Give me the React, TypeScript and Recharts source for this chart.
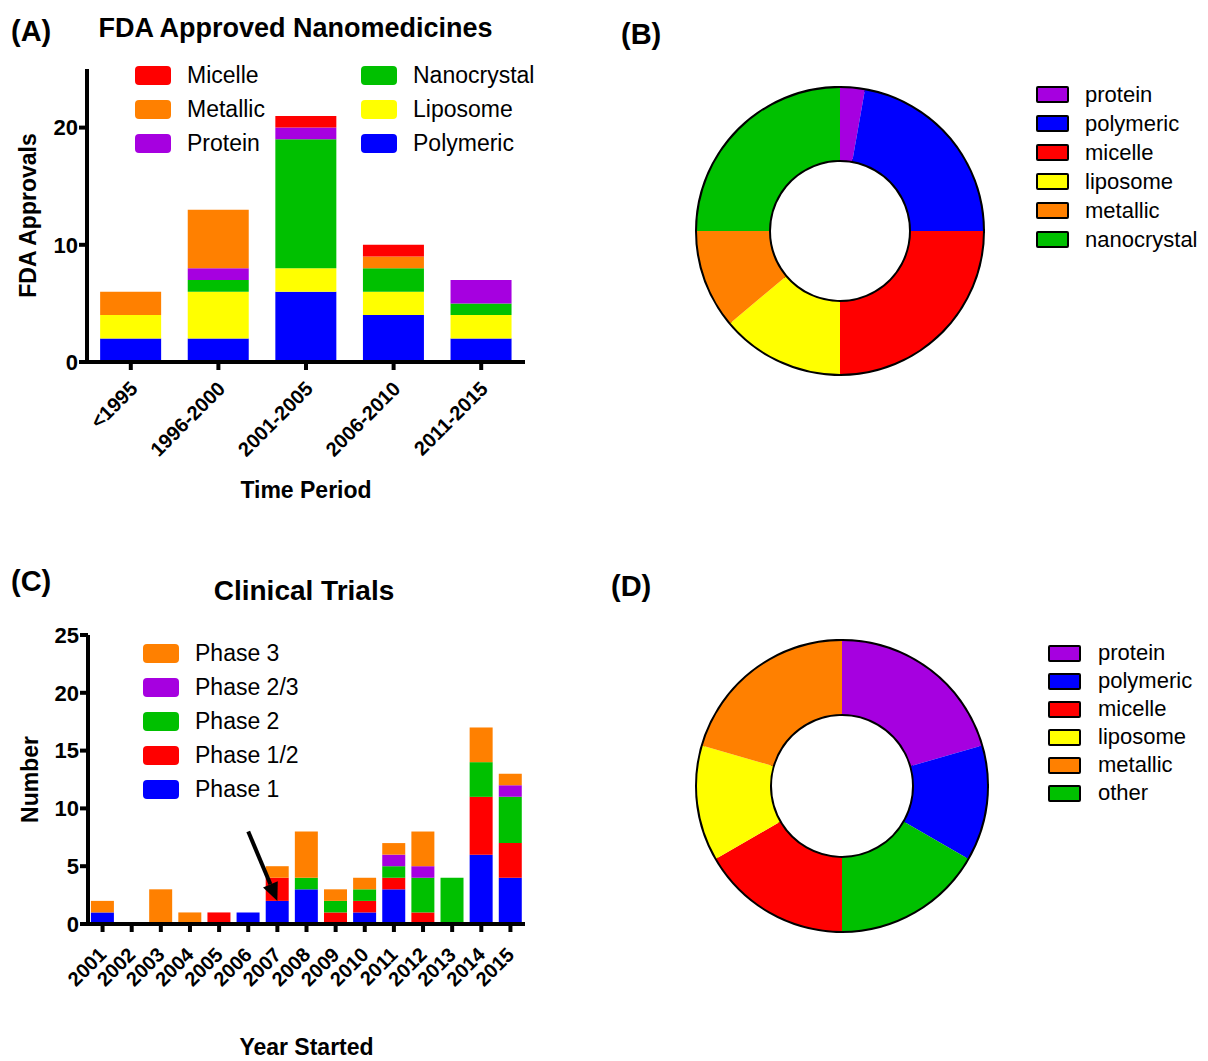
import React from "react";
import { BarChart, Bar, XAxis, YAxis, Legend, ReferenceLine, PieChart, Pie, Cell } from "recharts";

const FONT = "'Liberation Sans', Arial, Helvetica, sans-serif";

const COLORS: Record<string, string> = {
  red: "#ff0000",
  orange: "#ff8000",
  purple: "#a600e0",
  green: "#00c000",
  yellow: "#ffff00",
  blue: "#0000ff",
};

// (A) FDA approvals per time period
const periods = ["<1995", "1996-2000", "2001-2005", "2006-2010", "2011-2015"];
const polymeric = [2, 2, 6, 4, 2];
const liposome = [2, 4, 2, 2, 2];
const nanocrystal = [0, 1, 11, 2, 1];
const protein = [0, 1, 1, 0, 2];
const metallic = [2, 5, 0, 1, 0];
const micelle = [0, 0, 1, 1, 0];
const fdaTicks = [0, 10, 20];

// (C) clinical trials per start year
const years = ["2001", "2002", "2003", "2004", "2005", "2006", "2007", "2008", "2009", "2010", "2011", "2012", "2013", "2014", "2015"];
const phase1 = [1, 0, 0, 0, 0, 1, 2, 3, 0, 1, 3, 0, 0, 6, 4];
const phase12 = [0, 0, 0, 0, 1, 0, 2, 0, 1, 1, 1, 1, 0, 5, 3];
const phase2 = [0, 0, 0, 0, 0, 0, 0, 1, 1, 1, 1, 3, 4, 3, 4];
const phase23 = [0, 0, 0, 0, 0, 0, 0, 0, 0, 0, 1, 1, 0, 0, 1];
const phase3 = [1, 0, 3, 1, 0, 0, 1, 4, 1, 1, 1, 3, 0, 3, 1];
const trialTicks = [0, 5, 10, 15, 20, 25];

// (B) donut: approved nanomedicines by class
const approvedNames = ["protein", "polymeric", "micelle", "liposome", "metallic", "nanocrystal"];
const approvedValues = [1, 8, 9, 5, 4, 9];

// (D) donut: clinical trials by class (clockwise from top)
const trialNames = ["protein", "polymeric", "other", "micelle", "liposome", "metallic"];
const trialValues = [16, 10, 13, 13, 10, 16];
const trialLegendOrder = ["protein", "polymeric", "micelle", "liposome", "metallic", "other"];

const CLASS_COLOR: Record<string, string> = {
  protein: COLORS.purple,
  polymeric: COLORS.blue,
  micelle: COLORS.red,
  liposome: COLORS.yellow,
  metallic: COLORS.orange,
  nanocrystal: COLORS.green,
  other: COLORS.green,
};

const fdaSeries = [
  { key: "Polymeric", values: polymeric, color: COLORS.blue },
  { key: "Liposome", values: liposome, color: COLORS.yellow },
  { key: "Nanocrystal", values: nanocrystal, color: COLORS.green },
  { key: "Protein", values: protein, color: COLORS.purple },
  { key: "Metallic", values: metallic, color: COLORS.orange },
  { key: "Micelle", values: micelle, color: COLORS.red },
];

const trialSeries = [
  { key: "Phase 1", values: phase1, color: COLORS.blue },
  { key: "Phase 1/2", values: phase12, color: COLORS.red },
  { key: "Phase 2", values: phase2, color: COLORS.green },
  { key: "Phase 2/3", values: phase23, color: COLORS.purple },
  { key: "Phase 3", values: phase3, color: COLORS.orange },
];

const fdaData = periods.map((p, i) => {
  const row: Record<string, string | number> = { period: p };
  fdaSeries.forEach((s) => (row[s.key] = s.values[i]));
  return row;
});

const trialData = years.map((y, i) => {
  const row: Record<string, string | number> = { year: y };
  trialSeries.forEach((s) => (row[s.key] = s.values[i]));
  return row;
});

const approvedData = approvedNames.map((n, i) => ({ name: n, value: approvedValues[i] }));
const trialPieData = trialNames.map((n, i) => ({ name: n, value: trialValues[i] }));
const ring = [{ name: "ring", value: 1 }];

const axisStroke = { stroke: "#000", strokeWidth: 4 };
const yTick = { fontSize: 22, fontWeight: "bold", fill: "#000", fontFamily: FONT };

function AngledTick(props: any) {
  const { x, y, payload, dx, dy, size } = props;
  const ax = x + dx;
  const ay = y + dy;
  return (
    <text x={ax} y={ay} transform={`rotate(-45 ${ax} ${ay})`} textAnchor="end"
      fontSize={size} fontWeight="bold" fontFamily={FONT} fill="#000">
      {payload.value}
    </text>
  );
}

function xTitle(text: string, fromBottom: number) {
  return {
    content: (p: any) => {
      const vb = p.viewBox;
      return (
        <text x={vb.x + vb.width / 2} y={vb.y + vb.height - fromBottom} textAnchor="middle"
          fontSize={23} fontWeight="bold" fontFamily={FONT} fill="#000">
          {text}
        </text>
      );
    },
  };
}

function yTitle(text: string, cx: number) {
  return {
    content: (p: any) => {
      const vb = p.viewBox;
      const cy = vb.y + vb.height / 2;
      return (
        <text x={cx} y={cy} dy="0.36em" transform={`rotate(-90 ${cx} ${cy})`} textAnchor="middle"
          fontSize={23} fontWeight="bold" fontFamily={FONT} fill="#000">
          {text}
        </text>
      );
    },
  };
}

function Arrow(p: any) {
  const { x1, y1, x2, y2 } = p;
  const a = Math.atan2(y2 - y1, x2 - x1);
  const len = 18;
  const half = 8;
  const bx = x2 - len * Math.cos(a);
  const by = y2 - len * Math.sin(a);
  const px = -Math.sin(a) * half;
  const py = Math.cos(a) * half;
  return (
    <g>
      <line x1={x1} y1={y1} x2={bx} y2={by} stroke="#000" strokeWidth={4} />
      <polygon points={`${x2},${y2} ${bx + px},${by + py} ${bx - px},${by - py}`} fill="#000" />
    </g>
  );
}

function SwatchLegend({ items, rows, colWidth, rowHeight }: { items: { name: string; color: string }[]; rows: number; colWidth: number; rowHeight: number }) {
  return (
    <div style={{
      display: "grid", gridTemplateRows: `repeat(${rows}, ${rowHeight}px)`, gridAutoFlow: "column",
      gridAutoColumns: `${colWidth}px`, fontFamily: FONT, fontSize: 23, color: "#000",
    }}>
      {items.map((it) => (
        <div key={it.name} style={{ display: "flex", alignItems: "center", whiteSpace: "nowrap" }}>
          <span style={{ width: 36, height: 19, borderRadius: 4, background: it.color, marginRight: 16, flex: "none" }} />
          <span>{it.name}</span>
        </div>
      ))}
    </div>
  );
}

function BoxLegend({ names, rowHeight, gap }: { names: string[]; rowHeight: number; gap: number }) {
  return (
    <div style={{ fontFamily: FONT, fontSize: 22, color: "#000" }}>
      {names.map((n) => (
        <div key={n} style={{ display: "flex", alignItems: "center", height: rowHeight, whiteSpace: "nowrap" }}>
          <span style={{
            width: 29, height: 13, border: "2px solid #000", borderRadius: 2,
            background: CLASS_COLOR[n], marginRight: gap, flex: "none",
          }} />
          <span>{n}</span>
        </div>
      ))}
    </div>
  );
}

const abs = (left: number, top: number): React.CSSProperties => ({ position: "absolute", left, top });

function Heading({ text, left, baseline, size, width, center }: { text: string; left: number; baseline: number; size: number; width?: number; center?: boolean }) {
  return (
    <div style={{
      position: "absolute", left, top: baseline - 0.8465 * size, width, textAlign: center ? "center" : "left",
      fontFamily: FONT, fontWeight: "bold", fontSize: size, lineHeight: 1, color: "#000", whiteSpace: "nowrap",
    }}>
      {text}
    </div>
  );
}

export default function App() {
  const fdaLegend = [...fdaSeries].reverse().map((s) => ({ name: s.key, color: s.color }));
  const trialLegend = [...trialSeries].reverse().map((s) => ({ name: s.key, color: s.color }));

  return (
    <div style={{ position: "absolute", left: 0, top: 0, width: 1208, height: 1061, overflow: "hidden", background: "#fff" }}>
      <Heading text="(A)" left={11} baseline={42} size={29} />
      <Heading text="FDA Approved Nanomedicines" left={0} width={591} center baseline={38} size={27} />
      <Heading text="(B)" left={621} baseline={45} size={29} />
      <Heading text="(C)" left={11} baseline={592} size={29} />
      <Heading text="Clinical Trials" left={0} width={608} center baseline={601} size={28} />
      <Heading text="(D)" left={611} baseline={597} size={29} />

      {/* (A) */}
      <div style={abs(0, 0)}>
        <BarChart width={560} height={520} data={fdaData} margin={{ top: 69, right: 35, left: 0, bottom: 0 }} barCategoryGap="15%">
          <XAxis dataKey="period" height={158} interval={0} axisLine={axisStroke} tickLine={axisStroke} tickSize={8}
            tick={(p: any) => <AngledTick {...p} dx={8} dy={18} size={20} />}
            label={xTitle("Time Period", 22)} />
          <YAxis type="number" width={87} domain={[0, 25]} ticks={fdaTicks} axisLine={axisStroke} tickLine={axisStroke}
            tickSize={8} tickMargin={1} tick={yTick} label={yTitle("FDA Approvals", 28)} />
          {fdaSeries.map((s) => (
            <Bar key={s.key} dataKey={s.key} stackId="a" fill={s.color} isAnimationActive={false} />
          ))}
          <Legend layout="vertical" align="center" verticalAlign="middle" wrapperStyle={{ left: 135, top: 58 }}
            content={() => <SwatchLegend items={fdaLegend} rows={3} colWidth={226} rowHeight={34} />} />
        </BarChart>
      </div>

      {/* (C) */}
      <div style={abs(0, 560)}>
        <BarChart width={560} height={501} data={trialData} margin={{ top: 75, right: 35, left: 0, bottom: 0 }} barCategoryGap="10%">
          <XAxis dataKey="year" height={137} interval={0} axisLine={axisStroke} tickLine={axisStroke} tickSize={8}
            tick={(p: any) => <AngledTick {...p} dx={5} dy={22} size={20} />}
            label={xTitle("Year Started", 6)} />
          <YAxis type="number" width={88} domain={[0, 25]} ticks={trialTicks} axisLine={axisStroke} tickLine={axisStroke}
            tickSize={8} tickMargin={1} tick={yTick} label={yTitle("Number", 30)} />
          {trialSeries.map((s) => (
            <Bar key={s.key} dataKey={s.key} stackId="t" fill={s.color} isAnimationActive={false} />
          ))}
          <ReferenceLine segment={[{ x: "2006", y: 8 }, { x: "2007", y: 2 }]} shape={(p: any) => <Arrow {...p} />} />
          <Legend layout="vertical" align="center" verticalAlign="middle" wrapperStyle={{ left: 143, top: 76 }}
            content={() => <SwatchLegend items={trialLegend} rows={5} colWidth={200} rowHeight={34} />} />
        </BarChart>
      </div>

      {/* (B) */}
      <div style={abs(600, 60)}>
        <PieChart width={600} height={340} margin={{ top: 0, right: 0, bottom: 0, left: 0 }}>
          <Pie data={ring} dataKey="value" cx={240} cy={171} innerRadius={71} outerRadius={143}
            fill="#fff" stroke="#000" strokeWidth={4} isAnimationActive={false} legendType="none" />
          <Pie data={approvedData} dataKey="value" nameKey="name" cx={240} cy={171} innerRadius={71} outerRadius={143}
            startAngle={90} endAngle={-270} stroke="none" isAnimationActive={false}>
            {approvedData.map((d) => (
              <Cell key={d.name} fill={CLASS_COLOR[d.name]} />
            ))}
          </Pie>
          <Legend layout="vertical" align="center" verticalAlign="middle" wrapperStyle={{ left: 436, top: 20 }}
            content={() => <BoxLegend names={approvedNames} rowHeight={29} gap={16} />} />
        </PieChart>
      </div>

      {/* (D) */}
      <div style={abs(600, 610)}>
        <PieChart width={600} height={380} margin={{ top: 0, right: 0, bottom: 0, left: 0 }}>
          <Pie data={ring} dataKey="value" cx={242} cy={176} innerRadius={72} outerRadius={145}
            fill="#fff" stroke="#000" strokeWidth={4} isAnimationActive={false} legendType="none" />
          <Pie data={trialPieData} dataKey="value" nameKey="name" cx={242} cy={176} innerRadius={72} outerRadius={145}
            startAngle={90} endAngle={-270} stroke="none" isAnimationActive={false}>
            {trialPieData.map((d) => (
              <Cell key={d.name} fill={CLASS_COLOR[d.name]} />
            ))}
          </Pie>
          <Legend layout="vertical" align="center" verticalAlign="middle" wrapperStyle={{ left: 448, top: 29 }}
            content={() => <BoxLegend names={trialLegendOrder} rowHeight={28} gap={17} />} />
        </PieChart>
      </div>
    </div>
  );
}
